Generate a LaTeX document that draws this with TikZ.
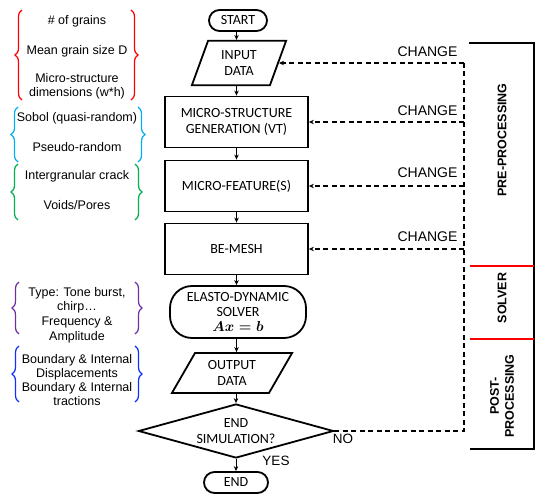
\documentclass[tikz,border=0pt]{standalone}
\usepackage{fontspec}
\setmainfont{Carlito}
\newfontfamily\arialf{Liberation Sans}
\usetikzlibrary{shapes.geometric,shapes.misc,decorations.pathreplacing,arrows.meta}
\definecolor{cred}{HTML}{FF0000}
\definecolor{ccyan}{HTML}{00B0F0}
\definecolor{cgreen}{HTML}{00B050}
\definecolor{cpurple}{HTML}{7030A0}
\definecolor{cblue}{HTML}{1030FF}
\begin{document}
\begin{tikzpicture}[x=1pt,y=1pt,
  flowtxt/.style={align=center,font=\fontsize{14}{16}\selectfont},
  box/.style={flowtxt,draw,line width=1.8pt,minimum width=143,minimum height=51,inner sep=2pt},
  term/.style={flowtxt,draw,line width=1.8pt,rounded rectangle,minimum height=21,inner sep=1pt},
  io/.style={flowtxt,draw,line width=1.8pt,trapezium,minimum height=40,inner sep=1pt},
  arr/.style={-{Stealth[length=5pt,width=4.5pt]},line width=0.9pt},
  fb/.style={dash pattern=on 5pt off 3.5pt,line width=1.2pt},
  fbarr/.style={fb,-{Stealth[length=5pt,width=4.5pt]}},
  lab/.style={align=center,font=\arialf\fontsize{12.5}{14.2}\selectfont,inner sep=0pt},
  chg/.style={font=\arialf\fontsize{14}{16}\selectfont,inner sep=0pt},
  phase/.style={rotate=90,align=center,font=\arialf\bfseries\fontsize{12.5}{15}\selectfont,inner sep=0pt},
  brc/.style={decorate,decoration={brace,amplitude=7pt},line width=1.2pt}
]
\useasboundingbox (0,0) rectangle (550,-503);

% flowchart
\node[term,minimum width=60] (start) at (238,-20.5) {START};
\node[io,trapezium left angle=70,trapezium right angle=110,minimum width=95] (in) at (239,-63) {INPUT\\DATA};
\node[box] (ms) at (236.5,-122) {MICRO-STRUCTURE\\GENERATION (VT)};
\node[box] (mf) at (236.5,-186) {MICRO-FEATURE(S)};
\node[box] (bm) at (236.5,-249) {BE-MESH};
\node[flowtxt,draw,line width=1.8pt,rounded corners=22pt,minimum width=136,minimum height=52,inner sep=1pt] (el) at (238,-312) {ELASTO-DYNAMIC\\[-1pt]SOLVER\\[-1pt]{\boldmath$Ax=b$}};
\node[io,trapezium left angle=60,trapezium right angle=120,minimum width=117] (out) at (232,-373) {OUTPUT\\DATA};
\node[flowtxt,draw,line width=1.8pt,diamond,aspect=3.6,minimum width=195,minimum height=54,inner sep=0pt] (dec) at (236,-431) {END\\SIMULATION?};
\node[term,minimum width=66] (end) at (236,-482.5) {END};

\draw[arr] (start.south -| ms.north) -- (ms.north |- in.north);
\draw[arr] (in.south -| ms.north) -- (ms.north);
\draw[arr] (ms.south) -- (mf.north);
\draw[arr] (mf.south) -- (bm.north);
\draw[arr] (bm.south) -- (bm.south |- el.north);
\draw[arr] (el.south -| bm.south) -- (bm.south |- out.north);
\draw[arr] (out.south -| dec.north) -- (dec.north);
\draw[arr] (dec.south) -- (end.north);

% feedback
\coordinate (fbB) at (464,-431);
\draw[fb] (dec.east) -- (fbB) -- (fbB |- in.east) coordinate (fbT);
\draw[fbarr] (fbT) -- (in.east);
\draw[fbarr] (fbB |- ms.east) -- (ms.east);
\draw[fbarr] (fbB |- mf.east) -- (mf.east);
\draw[fbarr] (fbB |- bm.east) -- (bm.east);
\node[chg] (c1) at (427.5,-52) {CHANGE};
\node[chg] (c2) at (427.5,-111) {CHANGE};
\node[chg] (c3) at (427.5,-173) {CHANGE};
\node[chg] (c4) at (427.5,-237) {CHANGE};
\node[chg,font=\arialf\fontsize{13.5}{16}\selectfont] (no) at (343,-439) {NO};
\node[chg,font=\arialf\fontsize{13.5}{16}\selectfont] (yes) at (276,-461) {YES};

% phases
\draw[line width=1.8pt] (469,-43) -- (534,-43) -- (534,-449) -- (470,-449);
\draw[cred,line width=1.5pt] (470,-266) -- (534,-266);
\draw[cred,line width=1.5pt] (470,-339) -- (534,-339);
\node[phase] (pre) at (502,-140) {PRE-PROCESSING};
\node[phase] (sol) at (502,-298) {SOLVER};
\node[phase] (post) at (502,-396) {POST-\\PROCESSING};

% left annotations
\node[lab] (g1a) at (77,-21) {\# of grains};
\node[lab] (g1b) at (77,-51) {Mean grain size D};
\node[lab] (g1c) at (77,-86.5) {Micro-structure\\dimensions (w*h)};
\draw[brc,cred] (22,-100) -- (22,-10);
\draw[brc,cred] (131,-10) -- (131,-100);

\node[lab] (g2a) at (77,-118) {Sobol (quasi-random)};
\node[lab] (g2b) at (77,-147) {Pseudo-random};
\draw[brc,ccyan] (18,-162) -- (18,-107);
\draw[brc,ccyan] (138,-107) -- (138,-162);

\node[lab] (g3a) at (77,-176) {Intergranular crack};
\node[lab] (g3b) at (77,-205) {Voids/Pores};
\draw[brc,cgreen] (18,-220) -- (18,-164);
\draw[brc,cgreen] (135,-164) -- (135,-220);

\node[lab,font=\arialf\fontsize{12.5}{14.6}\selectfont] (g4) at (77,-315) {Type: Tone burst,\\chirp…\\Frequency \&\\Amplitude};
\draw[brc,cpurple] (19,-334) -- (19,-282);
\draw[brc,cpurple] (135,-282) -- (135,-334);

\node[lab] (g5) at (77,-380) {Boundary \& Internal\\Displacements\\Boundary \& Internal\\tractions};
\draw[brc,cblue] (19,-402) -- (19,-346);
\draw[brc,cblue] (135,-346) -- (135,-402);
\end{tikzpicture}
\end{document}
